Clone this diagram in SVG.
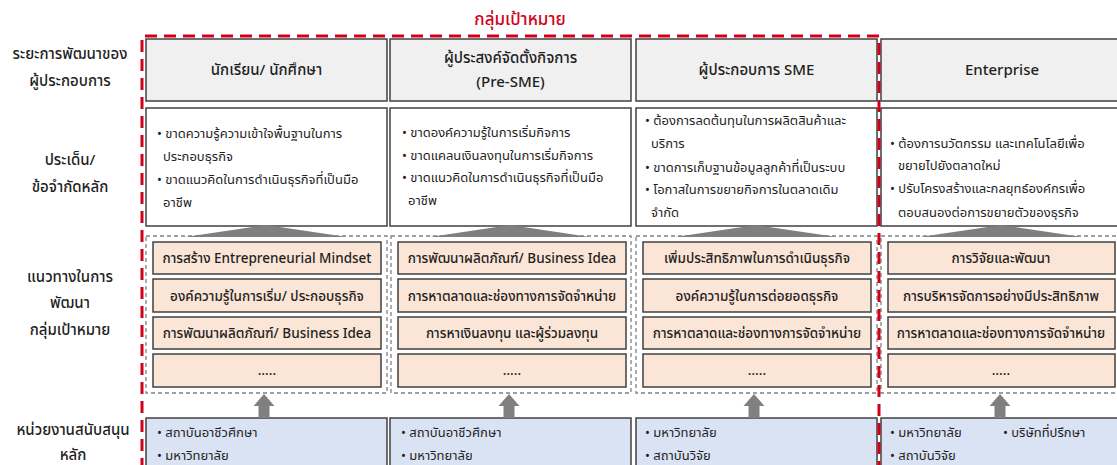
<svg xmlns="http://www.w3.org/2000/svg" width="1117" height="465" viewBox="0 0 1117 465">
<style>
text{font-family:"Noto Sans Thai","Noto Sans","Liberation Sans",sans-serif;fill:#1f1f1f}
.lbl{font-size:15px;text-anchor:middle;font-weight:500}
.hd{font-size:15px;text-anchor:middle;font-weight:500}
.is{font-size:13px}
.pc{font-size:13.5px;text-anchor:middle;font-weight:500}
.bl{font-size:13px}
.hbox{fill:#f0f0f0;stroke:#404040;stroke-width:1.5}
.ibox{fill:#ffffff;stroke:#404040;stroke-width:1.5}
.grp{fill:none;stroke:#808080;stroke-width:1.3;stroke-dasharray:4 3}
.pbox{fill:#fbe5d6;stroke:#404040;stroke-width:1.5}
.bbox{fill:#dae3f3;stroke:#404040;stroke-width:1.5}
.tri{fill:#7f7f7f}
.arr{fill:#808080}
</style>

<g id="row-labels">
<text class="lbl" x="70" y="59">ระยะการพัฒนาของ</text>
<text class="lbl" x="70" y="86">ผู้ประกอบการ</text>
<text class="lbl" x="70" y="165">ประเด็น/</text>
<text class="lbl" x="70" y="192">ข้อจำกัดหลัก</text>
<text class="lbl" x="70" y="282">แนวทางในการ</text>
<text class="lbl" x="70" y="308">พัฒนา</text>
<text class="lbl" x="70" y="335">กลุ่มเป้าหมาย</text>
<text class="lbl" x="73" y="435">หน่วยงานสนับสนุน</text>
<text class="lbl" x="73" y="460">หลัก</text>
</g>

<!-- column 1 -->
<g id="col1-header"><rect class="hbox" x="146" y="39" width="241" height="62"/><text class="hd" x="266.5" y="75">นักเรียน/ นักศึกษา</text></g>
<g id="col1-issues"><rect class="ibox" x="146" y="108" width="241" height="118"/>
<text class="is" x="157" y="138">• ขาดความรู้ความเข้าใจพื้นฐานในการ</text>
<text class="is" x="163" y="161">ประกอบธุรกิจ</text>
<text class="is" x="157" y="184">• ขาดแนวคิดในการดำเนินธุรกิจที่เป็นมือ</text>
<text class="is" x="163" y="207">อาชีพ</text></g>
<g id="col1-approach"><rect class="grp" x="146" y="236" width="241" height="157"/>
<rect class="pbox" x="153" y="242" width="228" height="32"/><text class="pc" x="267" y="263">การสร้าง Entrepreneurial Mindset</text>
<rect class="pbox" x="153" y="279" width="228" height="33"/><text class="pc" x="267" y="301">องค์ความรู้ในการเริ่ม/ ประกอบธุรกิจ</text>
<rect class="pbox" x="153" y="317" width="228" height="32"/><text class="pc" x="267" y="338">การพัฒนาผลิตภัณฑ์/ Business Idea</text>
<rect class="pbox" x="153" y="354" width="228" height="33"/><text class="pc" x="267" y="375">…..</text></g>
<g id="col1-support"><rect class="bbox" x="146" y="418" width="241" height="60"/>
<text class="bl" x="157" y="437">• สถาบันอาชีวศึกษา</text>
<text class="bl" x="157" y="460">• มหาวิทยาลัย</text></g>

<!-- column 2 -->
<g id="col2-header"><rect class="hbox" x="390" y="39" width="241" height="62"/><text class="hd" x="510.5" y="63">ผู้ประสงค์จัดตั้งกิจการ</text><text class="hd" x="510.5" y="87">(Pre-SME)</text></g>
<g id="col2-issues"><rect class="ibox" x="390" y="108" width="241" height="118"/>
<text class="is" x="402" y="137">• ขาดองค์ความรู้ในการเริ่มกิจการ</text>
<text class="is" x="402" y="160">• ขาดแคลนเงินลงทุนในการเริ่มกิจการ</text>
<text class="is" x="402" y="182">• ขาดแนวคิดในการดำเนินธุรกิจที่เป็นมือ</text>
<text class="is" x="408" y="205">อาชีพ</text></g>
<g id="col2-approach"><rect class="grp" x="391" y="236" width="240" height="157"/>
<rect class="pbox" x="398" y="242" width="228" height="32"/><text class="pc" x="512" y="263">การพัฒนาผลิตภัณฑ์/ Business Idea</text>
<rect class="pbox" x="398" y="279" width="228" height="33"/><text class="pc" x="512" y="301">การหาตลาดและช่องทางการจัดจำหน่าย</text>
<rect class="pbox" x="398" y="317" width="228" height="32"/><text class="pc" x="512" y="338">การหาเงินลงทุน และผู้ร่วมลงทุน</text>
<rect class="pbox" x="398" y="354" width="228" height="33"/><text class="pc" x="512" y="375">…..</text></g>
<g id="col2-support"><rect class="bbox" x="390" y="418" width="241" height="60"/>
<text class="bl" x="401" y="437">• สถาบันอาชีวศึกษา</text>
<text class="bl" x="401" y="460">• มหาวิทยาลัย</text></g>

<!-- column 3 -->
<g id="col3-header"><rect class="hbox" x="636" y="39" width="241" height="62"/><text class="hd" x="756.5" y="75">ผู้ประกอบการ SME</text></g>
<g id="col3-issues"><rect class="ibox" x="636" y="108" width="241" height="118"/>
<text class="is" x="645" y="125">• ต้องการลดต้นทุนในการผลิตสินค้าและ</text>
<text class="is" x="651" y="148">บริการ</text>
<text class="is" x="645" y="172">• ขาดการเก็บฐานข้อมูลลูกค้าที่เป็นระบบ</text>
<text class="is" x="645" y="194">• โอกาสในการขยายกิจการในตลาดเดิม</text>
<text class="is" x="651" y="217">จำกัด</text></g>
<g id="col3-approach"><rect class="grp" x="636" y="236" width="241" height="157"/>
<rect class="pbox" x="643" y="242" width="228" height="32"/><text class="pc" x="757" y="263">เพิ่มประสิทธิภาพในการดำเนินธุรกิจ</text>
<rect class="pbox" x="643" y="279" width="228" height="33"/><text class="pc" x="757" y="301">องค์ความรู้ในการต่อยอดธุรกิจ</text>
<rect class="pbox" x="643" y="317" width="228" height="32"/><text class="pc" x="757" y="338">การหาตลาดและช่องทางการจัดจำหน่าย</text>
<rect class="pbox" x="643" y="354" width="228" height="33"/><text class="pc" x="757" y="375">…..</text></g>
<g id="col3-support"><rect class="bbox" x="636" y="418" width="241" height="60"/>
<text class="bl" x="645" y="437">• มหาวิทยาลัย</text>
<text class="bl" x="645" y="460">• สถาบันวิจัย</text></g>

<!-- column 4 -->
<g id="col4-header"><rect class="hbox" x="881" y="39" width="245" height="62"/><text class="hd" x="1002" y="75">Enterprise</text></g>
<g id="col4-issues"><rect class="ibox" x="881" y="108" width="245" height="118"/>
<text class="is" x="890" y="148">• ต้องการนวัตกรรม และเทคโนโลยีเพื่อ</text>
<text class="is" x="898" y="170">ขยายไปยังตลาดใหม่</text>
<text class="is" x="890" y="193">• ปรับโครงสร้างและกลยุทธ์องค์กรเพื่อ</text>
<text class="is" x="898" y="217">ตอบสนองต่อการขยายตัวของธุรกิจ</text></g>
<g id="col4-approach"><rect class="grp" x="881" y="236" width="245" height="157"/>
<rect class="pbox" x="888" y="242" width="227" height="32"/><text class="pc" x="1001" y="263">การวิจัยและพัฒนา</text>
<rect class="pbox" x="888" y="279" width="227" height="33"/><text class="pc" x="1001" y="301">การบริหารจัดการอย่างมีประสิทธิภาพ</text>
<rect class="pbox" x="888" y="317" width="227" height="32"/><text class="pc" x="1001" y="338">การหาตลาดและช่องทางการจัดจำหน่าย</text>
<rect class="pbox" x="888" y="354" width="227" height="33"/><text class="pc" x="1001" y="375">…..</text></g>
<g id="col4-support"><rect class="bbox" x="881" y="418" width="245" height="60"/>
<text class="bl" x="890" y="437">• มหาวิทยาลัย</text>
<text class="bl" x="1003" y="437">• บริษัทที่ปรึกษา</text>
<text class="bl" x="890" y="460">• สถาบันวิจัย</text></g>

<g id="connectors">
<polygon class="tri" points="185,237 266,225 347,237"/>
<polygon class="tri" points="430,237 510,225 590,237"/>
<polygon class="tri" points="675,237 756,225 837,237"/>
<polygon class="tri" points="920,237 1001,225 1082,237"/>
<polygon class="arr" points="264,394 274.5,406 269.5,406 269.5,418 258.5,418 258.5,406 253.5,406"/>
<polygon class="arr" points="509,394 519.5,406 514.5,406 514.5,418 503.5,418 503.5,406 498.5,406"/>
<polygon class="arr" points="754,394 764.5,406 759.5,406 759.5,418 748.5,418 748.5,406 743.5,406"/>
<polygon class="arr" points="1000,394 1010.5,406 1005.5,406 1005.5,418 994.5,418 994.5,406 989.5,406"/>
</g>

<g id="target-group">
<path d="M142,470 V36 H879 V470" fill="none" stroke="#d0021b" stroke-width="3" stroke-dasharray="12 7"/>
<text x="520" y="25" font-size="17" text-anchor="middle" style="fill:#d0021b;font-weight:500">กลุ่มเป้าหมาย</text>
</g>
</svg>
